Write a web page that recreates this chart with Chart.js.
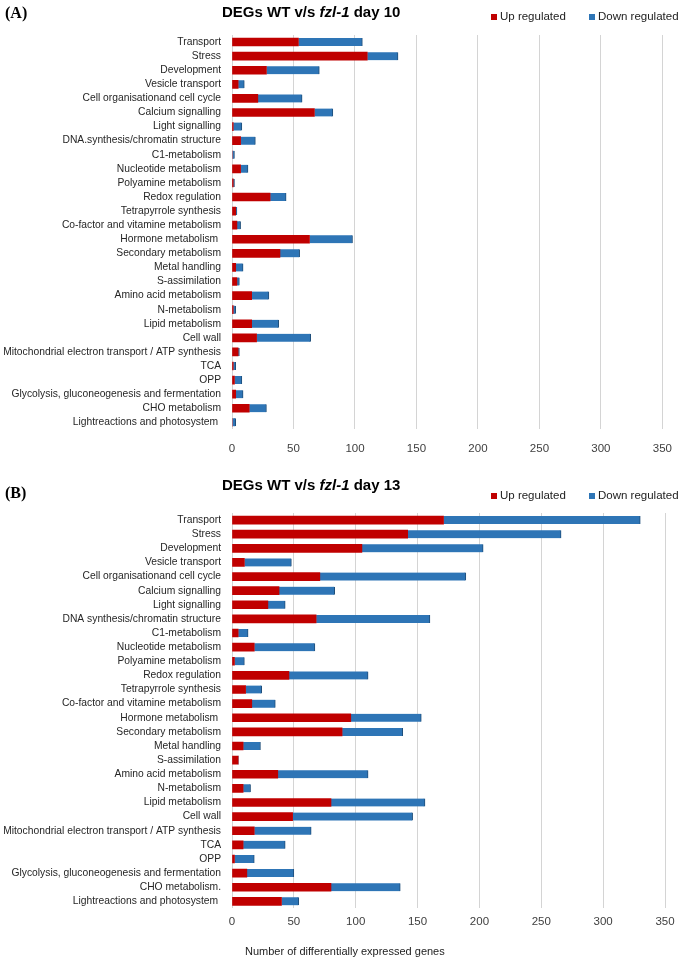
<!DOCTYPE html>
<html>
<head>
<meta charset="utf-8">
<script src="https://cdn.jsdelivr.net/npm/chart.js@4.4.1/dist/chart.umd.min.js"></script>
<style>
  body { margin: 0; background: #fff; width: 685px; height: 958px; position: relative; overflow: hidden; }
  canvas { position: absolute; left: 0; }
  #chartA { top: 0; }
  #chartB { top: 470px; }
  .panel { position: absolute; left: 5px; font: bold 16px "Liberation Serif", "Times New Roman", serif; color: #000; }
  .title { position: absolute; left: 222px; font: bold 15px "Liberation Sans", Arial, sans-serif; color: #000; white-space: nowrap; }
  .xtitle { position: absolute; left: 245px; top: 945px; font: 11px "Liberation Sans", Arial, sans-serif; color: #222; white-space: nowrap; }
</style>
</head>
<body>
<canvas id="chartA" width="685" height="470"></canvas>
<canvas id="chartB" width="685" height="488"></canvas>
<div class="panel" style="top:4px">(A)</div>
<div class="title" style="top:3px">DEGs WT v/s <i>fzl-1</i> day 10</div>
<div class="panel" style="top:484px">(B)</div>
<div class="title" style="top:476px">DEGs WT v/s <i>fzl-1</i> day 13</div>
<div class="xtitle">Number of differentially expressed genes</div>
<script>
const labelsA = ["Transport", "Stress", "Development", "Vesicle transport", "Cell organisationand cell cycle",
  "Calcium signalling", "Light signalling", "DNA.synthesis/chromatin structure", "C1-metabolism",
  "Nucleotide metabolism", "Polyamine metabolism", "Redox regulation", "Tetrapyrrole synthesis",
  "Co-factor and vitamine metabolism", "Hormone metabolism ", "Secondary metabolism", "Metal handling",
  "S-assimilation", "Amino acid metabolism", "N-metabolism", "Lipid metabolism", "Cell wall",
  "Mitochondrial electron transport / ATP synthesis", "TCA", "OPP",
  "Glycolysis, gluconeogenesis and fermentation", "CHO metabolism", "Lightreactions and photosystem "];

const labelsB = ["Transport", "Stress", "Development", "Vesicle transport", "Cell organisationand cell cycle",
  "Calcium signalling", "Light signalling", "DNA synthesis/chromatin structure", "C1-metabolism",
  "Nucleotide metabolism", "Polyamine metabolism", "Redox regulation", "Tetrapyrrole synthesis",
  "Co-factor and vitamine metabolism", "Hormone metabolism ", "Secondary metabolism", "Metal handling",
  "S-assimilation", "Amino acid metabolism", "N-metabolism", "Lipid metabolism", "Cell wall",
  "Mitochondrial electron transport / ATP synthesis", "TCA", "OPP",
  "Glycolysis, gluconeogenesis and fermentation", "CHO metabolism.", "Lightreactions and photosystem "];

const upA   = [54, 110, 28, 5, 21, 67, 1, 7, 0, 7, 1, 31, 3, 4, 63, 39, 3, 4, 16, 1, 16, 20, 5, 1, 2, 3, 14, 0];
const downA = [52, 25, 43, 5, 36, 15, 7, 12, 2, 6, 1, 13, 1, 3, 35, 16, 6, 2, 14, 2, 22, 44, 1, 2, 6, 6, 14, 3];

const upB   = [171, 142, 105, 10, 71, 38, 29, 68, 5, 18, 2, 46, 11, 16, 96, 89, 9, 5, 37, 9, 80, 49, 18, 9, 2, 12, 80, 40];
const downB = [159, 124, 98, 38, 118, 45, 14, 92, 8, 49, 8, 64, 13, 19, 57, 49, 14, 0, 73, 6, 76, 97, 46, 34, 16, 38, 56, 14];

const xTicks = [0, 50, 100, 150, 200, 250, 300, 350];

const fontFamily = '"Liberation Sans", Arial, sans-serif';

// legend drawn from the datasets, placed top right
const sideLegend = {
  id: "sideLegend",
  afterDraw(chart, args, opts) {
    const ctx = chart.ctx;
    const xs = [491, 589];
    ctx.save();
    ctx.font = "11.5px " + fontFamily;
    ctx.textBaseline = "middle";
    chart.data.datasets.forEach((ds, i) => {
      ctx.fillStyle = ds.backgroundColor;
      ctx.fillRect(xs[i], opts.y - 3, 6, 6);
      ctx.fillStyle = "#222";
      ctx.fillText(ds.label, xs[i] + 9, opts.y);
    });
    ctx.restore();
  }
};

function buildChart(id, labels, up, down, box) {
  return new Chart(document.getElementById(id), {
    type: "bar",
    data: {
      labels: labels,
      datasets: [
        { label: "Up regulated", data: up, backgroundColor: "#c00000", barThickness: 8 },
        { label: "Down regulated", data: down, backgroundColor: "#2e75b6", borderColor: "#1f4e79",
          borderWidth: { top: 0, bottom: 0, left: 0, right: 1 }, barThickness: 8 }
      ]
    },
    options: {
      indexAxis: "y",
      responsive: false,
      animation: false,
      layout: { padding: { top: box.top, right: 20, left: 0, bottom: 0 } },
      plugins: {
        legend: { display: false },
        tooltip: { enabled: false },
        sideLegend: { y: box.legendY }
      },
      scales: {
        x: {
          stacked: true,
          min: 0,
          max: 350,
          afterBuildTicks: (s) => { s.ticks = xTicks.map((v) => ({ value: v })); },
          afterFit: (s) => { s.height = box.xHeight; },
          grid: { color: "#d4d4d4", lineWidth: 1, drawTicks: false },
          border: { display: false },
          ticks: { padding: box.tickPad, color: "#404040", font: { size: 11.5, family: fontFamily } }
        },
        y: {
          stacked: true,
          afterFit: (s) => { s.width = 232; },
          grid: { display: false, drawTicks: false },
          border: { display: false },
          ticks: { padding: 11, autoSkip: false, color: "#262626", font: { size: 10.3, family: fontFamily } }
        }
      }
    },
    plugins: [sideLegend]
  });
}

buildChart("chartA", labelsA, upA, downA, { top: 35, xHeight: 40.6, tickPad: 13, legendY: 17 });
buildChart("chartB", labelsB, upB, downB, { top: 43, xHeight: 49.6, tickPad: 7, legendY: 26 });
</script>
</body>
</html>
